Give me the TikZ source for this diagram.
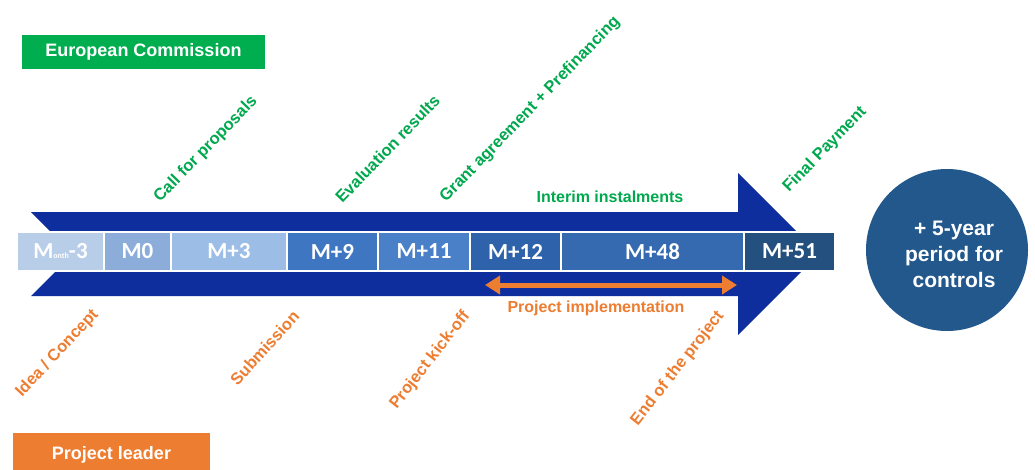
\documentclass[tikz,border=0pt]{standalone}
\usepackage{fontspec}
\setmainfont{Liberation Sans}
\newfontfamily\calibfont{Carlito}
\usetikzlibrary{arrows.meta}
\definecolor{arrowblue}{RGB}{14,46,158}
\definecolor{ecgreen}{RGB}{0,174,80}
\definecolor{txgreen}{RGB}{0,168,78}
\definecolor{plorange}{RGB}{237,125,49}
\definecolor{circblue}{RGB}{34,88,140}
\definecolor{cA}{RGB}{184,205,232}
\definecolor{cB}{RGB}{140,173,218}
\definecolor{cC}{RGB}{156,190,230}
\definecolor{cD}{RGB}{62,118,194}
\definecolor{cE}{RGB}{74,128,200}
\definecolor{cF}{RGB}{46,98,170}
\definecolor{cG}{RGB}{54,106,176}
\definecolor{cH}{RGB}{36,80,128}
\begin{document}
\begin{tikzpicture}[x=1pt,y=1pt,
  cell/.style={draw=white, line width=1.2pt, minimum height=39pt, inner sep=0pt,
    text=white, font=\calibfont\bfseries\fontsize{23}{23}\selectfont},
  eclabel/.style={text=txgreen, rotate=46, anchor=west, inner sep=0pt,
    font=\bfseries\fontsize{16.5}{16.5}\selectfont},
  pllabel/.style={text=plorange, anchor=east, inner sep=0pt,
    font=\bfseries\fontsize{16.5}{16.5}\selectfont},
  flat/.style={inner sep=0pt, font=\bfseries\fontsize{16}{16}\selectfont},
  actor/.style={inner sep=0pt, text=white, font=\bfseries\fontsize{18}{18}\selectfont}]
\useasboundingbox (0,0) rectangle (1035,-469);
\fill[white] (0,0) rectangle (1035,-469);

% big arrow
\fill[arrowblue] (31,-212) -- (738,-212) -- (738,-173) -- (819,-254) -- (738,-335)
  -- (738,-296) -- (31,-296) -- (73,-254) -- cycle;

% band of months
\node[cell, fill=cA, minimum width=87pt]  (m1) at (60.5,-251.5) {M{\fontsize{8}{8}\selectfont onth}-3};
\node[cell, fill=cB, minimum width=67pt]  (m2) at (137.5,-251.5) {M0};
\node[cell, fill=cC, minimum width=116pt] (m3) at (229,-251.5) {M+3};
\node[cell, fill=cD, minimum width=91pt]  (m4) at (332.5,-251.5) {M+9};
\node[cell, fill=cE, minimum width=92pt]  (m5) at (424,-251.5) {M+11};
\node[cell, fill=cF, minimum width=91pt]  (m6) at (515.5,-251.5) {M+12};
\node[cell, fill=cG, minimum width=183pt] (m7) at (652.5,-251.5) {M+48};
\node[cell, fill=cH, minimum width=91pt]  (m8) at (789.5,-251.5) {M+51};

% project implementation arrow
\coordinate (pa) at (485,-285);
\coordinate (pb) at (737,-285);
\draw[plorange, line width=5pt, {Triangle[length=15pt,width=18pt]}-{Triangle[length=15pt,width=18pt]}] (pa) -- (pb);
\node[flat, text=plorange] (impl) at (596,-308) {Project implementation};
\node[flat, text=txgreen] (interim) at (610,-197) {Interim instalments};

% circle
\node[circle, fill=circblue, minimum size=162pt, inner sep=0pt] (circ) at (947,-250) {};
\node[align=center, text=white, inner sep=0pt, font=\bfseries\fontsize{21}{26}\selectfont] (ctext) at (954,-254) {+ 5-year\\period for\\controls};

% actors
\node[actor, fill=ecgreen, minimum width=243pt, minimum height=34pt] (ec) at (143.5,-52) {European Commission};
\node[actor, fill=plorange, minimum width=197pt, minimum height=44pt] (pl) at (111.5,-455) {Project leader};

% European Commission milestones
\node[eclabel] (call) at (157,-200) {Call for proposals};
\node[eclabel] (eval) at (338,-200) {Evaluation results};
\node[eclabel] (grant) at (443,-200) {Grant agreement + Prefinancing};
\node[eclabel] (final) at (786,-190) {Final Payment};

% Project leader milestones
\node[pllabel, rotate=47] (idea) at (96,-312) {Idea / Concept};
\node[pllabel, rotate=48] (subm) at (296,-313) {Submission};
\node[pllabel, rotate=52] (kick) at (467,-313) {Project kick-off};
\node[pllabel, rotate=52] (endp) at (721,-313) {End of the project};
\end{tikzpicture}
\end{document}
